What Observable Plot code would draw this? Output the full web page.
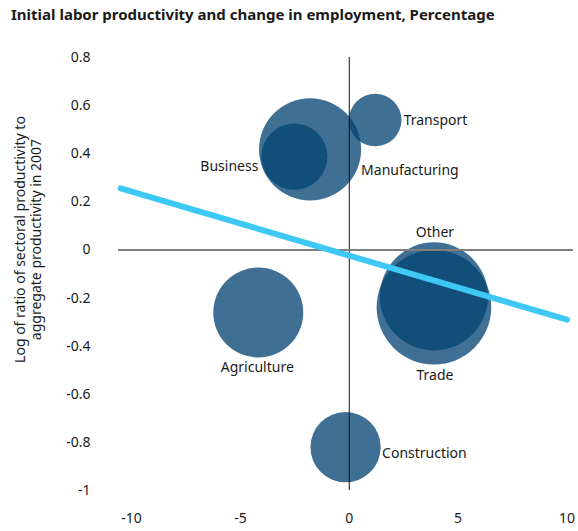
<!DOCTYPE html>
<html><head><meta charset="utf-8">
<script src="https://cdn.jsdelivr.net/npm/d3@7"></script>
<script src="https://cdn.jsdelivr.net/npm/@observablehq/plot@0.6"></script>
<style>
body{margin:0;background:#fff;font-family:"Noto Sans",sans-serif;}
#title{height:30px;box-sizing:border-box;padding:4px 0 0 11px;font-weight:700;font-size:15px;color:#1a1a1a;line-height:20px;white-space:nowrap}
</style></head><body>
<div id="title">Initial labor productivity and change in employment, Percentage</div>
<div id="chart"></div>
<script>
// Data
const sectors = ["Manufacturing","Business","Transport","Other","Trade","Agriculture","Construction"];
const employmentChange = [-1.8, -2.52, 1.19, 3.89, 3.89, -4.18, -0.17];
const logProductivityRatio = [0.418, 0.388, 0.54, -0.193, -0.238, -0.26, -0.82];
const employmentShare = [18.8, 7.9, 5.0, 21.1, 23.7, 14.6, 8.9];
const fitX = [-10.5, 10];
const fitY = [0.256, -0.29];
const xTicks = [-10, -5, 0, 5, 10];
const yTicks = [0.8, 0.6, 0.4, 0.2, 0, -0.2, -0.4, -0.6, -0.8, -1];
const yLabel = "Log of ratio of sectoral productivity to\naggregate productivity in 2007";

const bubbles = sectors.map((s, i) => ({sector: s, x: employmentChange[i], y: logProductivityRatio[i], share: employmentShare[i]}));
const fit = fitX.map((x, i) => ({x, y: fitY[i]}));

// label placement relative to each bubble (style config)
const placement = {
  Manufacturing: {textAnchor: "start", dx: 51, dy: 21},
  Business: {textAnchor: "end", dx: -36, dy: 10},
  Transport: {textAnchor: "start", dx: 28.5, dy: 0.5},
  Other: {textAnchor: "middle", dx: 1, dy: -63.5},
  Trade: {textAnchor: "middle", dx: 1, dy: 68.5},
  Agriculture: {textAnchor: "middle", dx: -1, dy: 55.5},
  Construction: {textAnchor: "start", dx: 36.5, dy: 6}
};

const fmt = d => String(d);

const labelMarks = bubbles.map(b => Plot.text([b], {
  x: "x", y: "y", text: "sector",
  textAnchor: placement[b.sector].textAnchor,
  dx: placement[b.sector].dx, dy: placement[b.sector].dy,
  fill: "#1a1a1a", fontSize: 14
}));

const chart = Plot.plot({
  width: 578,
  height: 501,
  marginLeft: 118,
  marginRight: 5,
  marginTop: 27,
  marginBottom: 41,
  style: {fontFamily: "'Noto Sans', sans-serif", fontSize: "14px", color: "#1a1a1a", background: "#fff"},
  x: {domain: [-10.6, 10.3]},
  y: {domain: [-1, 0.8]},
  r: {type: "sqrt", domain: [0, 23.7], range: [0, 57.3]},
  marks: [
    Plot.dot(bubbles, {x: "x", y: "y", r: "share", fill: "#034373", fillOpacity: 0.76, stroke: "none"}),
    Plot.ruleX([0], {stroke: "#111", strokeWidth: 1}),
    Plot.ruleY([0], {stroke: "#7f7f7f", strokeWidth: 2}),
    Plot.line(fit, {x: "x", y: "y", stroke: "#3ec8f5", strokeWidth: 6, strokeLinecap: "round"}),
    ...labelMarks,
    Plot.axisX({ticks: xTicks, tickFormat: fmt, tickSize: 0, tickPadding: 23, label: null, fontSize: 14, fill: "#1a1a1a"}),
    Plot.axisY({ticks: yTicks, tickFormat: fmt, tickSize: 0, tickPadding: 28, label: null, fontSize: 14, fill: "#1a1a1a"}),
    Plot.text([yLabel], {frameAnchor: "left", rotate: -90, dx: -90.5, dy: -34.5, textAnchor: "middle", lineAnchor: "middle", lineHeight: 1.1, fill: "#1a1a1a", fontSize: 14})
  ]
});
document.getElementById("chart").appendChild(chart);
</script>
</body></html>
